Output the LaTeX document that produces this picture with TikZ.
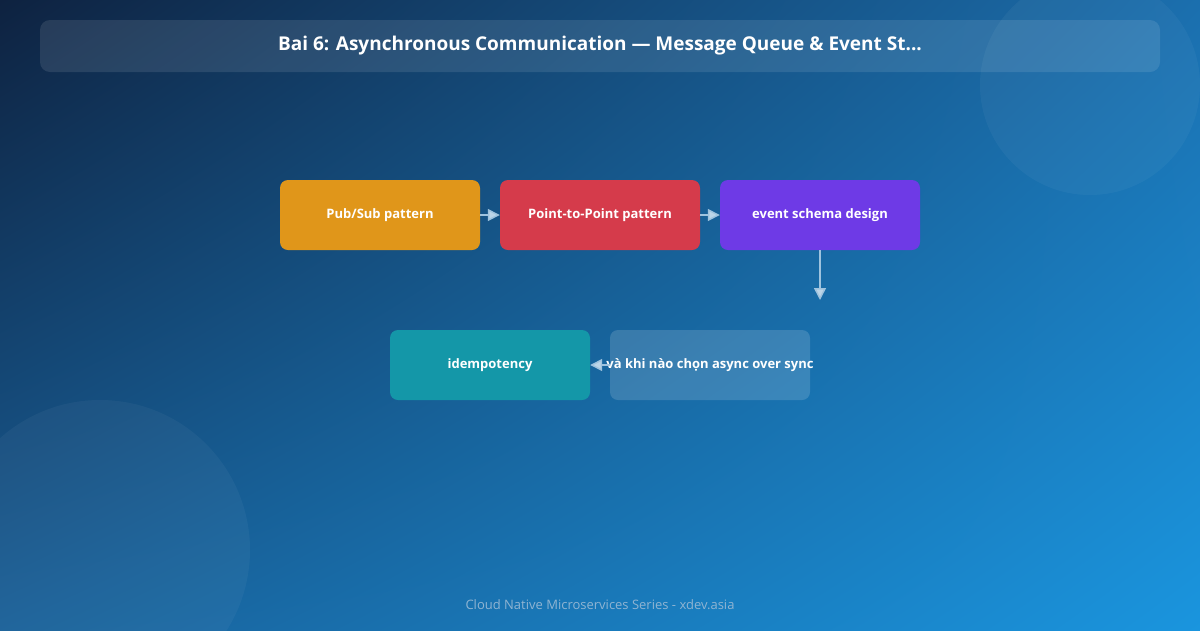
\documentclass[tikz,border=0pt]{standalone}
\usepackage{fontspec}
\setmainfont{Open Sans}
\usetikzlibrary{arrows.meta,shadings}
\definecolor{bgA}{HTML}{0E2240}
\definecolor{bgB}{HTML}{1B6FAE}
\definecolor{bgC}{HTML}{1A95DE}
\definecolor{cOr}{HTML}{E0961A}
\definecolor{cRe}{HTML}{D53B4B}
\definecolor{cPu}{HTML}{6E3AE6}
\definecolor{cTe}{HTML}{1497A8}
\definecolor{cAr}{HTML}{9FC3DE}
\definecolor{cFo}{HTML}{8FB4D2}
\tikzset{
 box/.style={rounded corners=8pt,minimum width=200pt,minimum height=70pt,inner sep=0pt,text=white,font=\bfseries\fontsize{13}{15}\selectfont},
 con/.style={draw=cAr,line width=1.5pt,-{Triangle[open,length=12pt,width=12pt,fill=cAr!70]}}
}
\begin{document}
\begin{tikzpicture}[x=1pt,y=-1pt]
\useasboundingbox (0,0) rectangle (1200,630);
\shade[upper left=bgA,upper right=bgB,lower left=bgB!80!bgA,lower right=bgC] (0,0) rectangle (1200,630);
\fill[white,opacity=0.04] (100,550) circle (150);
\fill[white,opacity=0.04] (1090,85) circle (110);
\fill[white,opacity=0.1,rounded corners=10pt] (40,20) rectangle (1160,72);
\node[text=white,font=\bfseries\fontsize{19}{22}\selectfont] (title) at (600,46) {Bai 6: Asynchronous Communication — Message Queue \& Event St...};
\node[box,fill=cOr] (a) at (380,215) {Pub/Sub pattern};
\node[box,fill=cRe] (b) at (600,215) {Point-to-Point pattern};
\node[box,fill=cPu] (c) at (820,215) {event schema design};
\node[box,fill=cTe] (e) at (490,365) {idempotency};
\node[box,fill=white,fill opacity=0.15] (d) at (710,365) {};
\node[text=white,font=\bfseries\fontsize{13}{15}\selectfont,inner sep=0pt] (dt) at (710,365) {và khi nào chọn async over sync};
\coordinate (cd) at (820,300);
\draw[con] (a) -- (b);
\draw[con] (b) -- (c);
\draw[con] (c) -- (cd);
\draw[con] (d) -- (e);
\node[text=cFo,font=\fontsize{13}{15}\selectfont] (foot) at (600,605) {Cloud Native Microservices Series - xdev.asia};
\end{tikzpicture}
\end{document}
